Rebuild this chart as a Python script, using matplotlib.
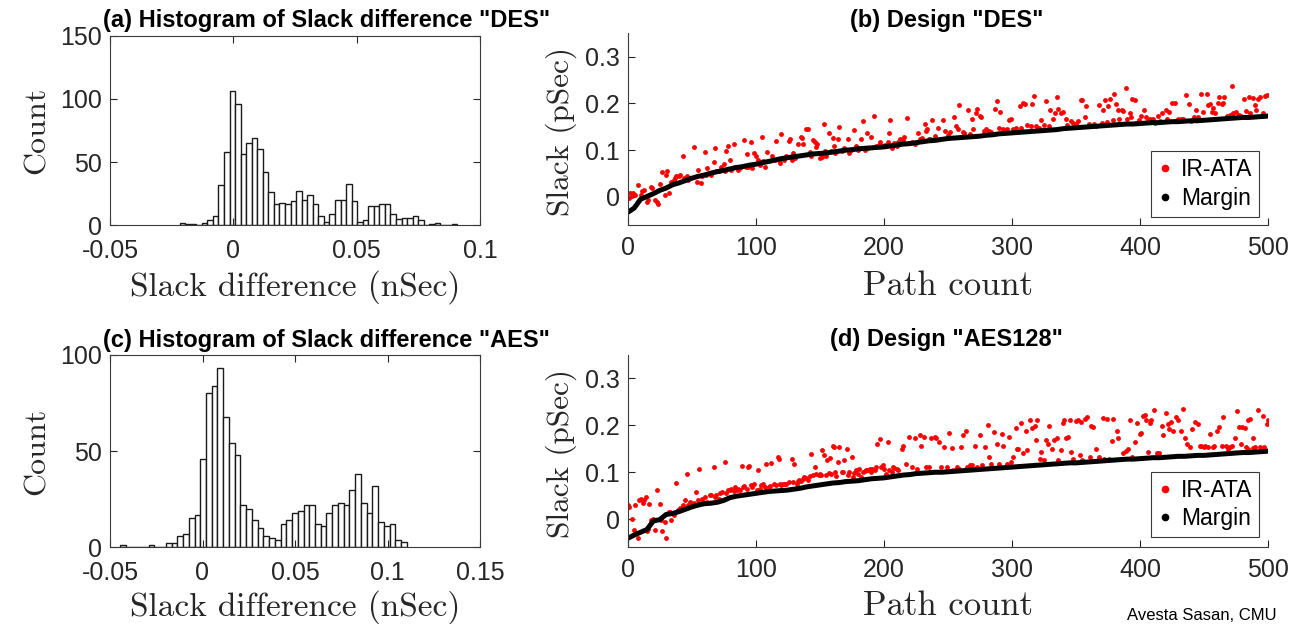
import numpy as np
import matplotlib.pyplot as plt
from matplotlib.lines import Line2D

plt.rcParams['font.family'] = ['Liberation Sans', 'DejaVu Sans']

# ---- histogram data (bin start, bin width, counts per bin) ----
des_bin_start = -0.0218
des_bin_width = 0.00225
des_counts = [2, 1, 1, 0, 2, 4, 7, 32, 58, 106,
              96, 56, 65, 69, 60, 42, 26, 17, 18, 17,
              19, 27, 20, 24, 17, 7, 3, 9, 20, 20,
              33, 19, 3, 4, 15, 15, 17, 17, 9, 5,
              6, 6, 7, 4, 0, 1, 2, 0, 0, 1]

aes_bin_start = -0.0446
aes_bin_width = 0.0031
aes_counts = [1, 0, 0, 0, 0, 1, 0, 0, 2, 2,
              6, 7, 15, 17, 46, 80, 84, 93, 68, 54,
              48, 22, 20, 14, 10, 6, 5, 4, 12, 14,
              18, 19, 22, 22, 12, 11, 18, 22, 23, 22,
              30, 38, 23, 18, 32, 13, 11, 12, 4, 3]

# ---- margin curves, one value every 5 paths (0..500) ----
margin_step = 5
des_margin = [-0.033, -0.024, -0.005, 0.001, 0.007, 0.014, 0.019, 0.026, 0.030, 0.035,
              0.040, 0.044, 0.047, 0.051, 0.054, 0.057, 0.060, 0.063, 0.065, 0.068,
              0.070, 0.073, 0.076, 0.079, 0.082, 0.084, 0.086, 0.088, 0.090, 0.092,
              0.093, 0.094, 0.096, 0.098, 0.100, 0.101, 0.103, 0.104, 0.105, 0.106,
              0.107, 0.109, 0.111, 0.113, 0.114, 0.116, 0.118, 0.120, 0.121, 0.123,
              0.125, 0.126, 0.127, 0.128, 0.129, 0.130, 0.132, 0.133, 0.135, 0.136,
              0.137, 0.138, 0.139, 0.140, 0.141, 0.142, 0.143, 0.144, 0.146, 0.147,
              0.148, 0.149, 0.150, 0.151, 0.152, 0.153, 0.154, 0.155, 0.156, 0.156,
              0.157, 0.158, 0.159, 0.159, 0.160, 0.161, 0.161, 0.162, 0.163, 0.163,
              0.164, 0.165, 0.166, 0.167, 0.168, 0.169, 0.170, 0.170, 0.171, 0.172,
              0.173]
aes_margin = [-0.041, -0.034, -0.028, -0.022, -0.004, -0.001, 0.010, 0.012, 0.016, 0.021,
              0.026, 0.030, 0.033, 0.034, 0.036, 0.040, 0.046, 0.049, 0.051, 0.053,
              0.055, 0.057, 0.059, 0.060, 0.061, 0.062, 0.064, 0.066, 0.069, 0.071,
              0.073, 0.075, 0.077, 0.078, 0.080, 0.081, 0.082, 0.084, 0.086, 0.087,
              0.088, 0.090, 0.092, 0.094, 0.095, 0.097, 0.098, 0.099, 0.100, 0.100,
              0.101, 0.102, 0.103, 0.104, 0.105, 0.106, 0.107, 0.108, 0.109, 0.110,
              0.111, 0.112, 0.113, 0.114, 0.115, 0.116, 0.117, 0.118, 0.119, 0.120,
              0.120, 0.121, 0.122, 0.123, 0.124, 0.125, 0.126, 0.127, 0.128, 0.128,
              0.129, 0.130, 0.131, 0.131, 0.132, 0.133, 0.134, 0.134, 0.135, 0.136,
              0.136, 0.137, 0.138, 0.139, 0.140, 0.141, 0.142, 0.142, 0.143, 0.144,
              0.145]

# ---- IR-ATA slack, (path, slack) ----
des_ir = [
    (1, -0.003), (2, 0.008), (3, 0.001), (4, 0.009), (6, 0.004), (8, 0.025), (10, 0.004), (11, 0.012), (13, 0.014), (15, -0.010),
    (16, -0.006), (18, 0.022), (19, 0.019), (21, -0.006), (23, -0.010), (24, -0.015), (25, 0.028), (27, 0.053), (29, 0.004), (30, 0.047),
    (31, 0.055), (32, 0.008), (34, 0.031), (36, 0.037), (37, 0.040), (38, 0.044), (40, 0.044), (41, 0.047), (43, 0.088), (44, 0.040),
    (46, 0.044), (47, 0.037), (49, 0.040), (52, 0.107), (54, 0.033), (55, 0.057), (57, 0.030), (58, 0.044), (60, 0.097), (61, 0.047),
    (62, 0.062), (64, 0.051), (65, 0.047), (67, 0.075), (68, 0.104), (69, 0.055), (71, 0.055), (73, 0.065), (75, 0.071), (76, 0.055),
    (77, 0.098), (78, 0.110), (80, 0.078), (81, 0.058), (83, 0.114), (84, 0.065), (86, 0.058), (88, 0.062), (91, 0.122), (92, 0.065),
    (93, 0.091), (94, 0.064), (96, 0.117), (97, 0.062), (99, 0.094), (100, 0.087), (102, 0.080), (103, 0.069), (105, 0.129), (106, 0.076),
    (107, 0.065), (109, 0.096), (110, 0.076), (113, 0.087), (115, 0.080), (116, 0.119), (118, 0.080), (119, 0.073), (120, 0.134), (122, 0.080),
    (124, 0.087), (126, 0.119), (127, 0.123), (128, 0.080), (129, 0.094), (131, 0.083), (133, 0.114), (135, 0.129), (136, 0.127), (137, 0.114),
    (139, 0.145), (141, 0.146), (142, 0.096), (143, 0.087), (145, 0.121), (146, 0.117), (147, 0.107), (148, 0.114), (150, 0.083), (152, 0.086),
    (153, 0.157), (154, 0.098), (155, 0.087), (157, 0.137), (159, 0.098), (160, 0.127), (161, 0.109), (162, 0.094), (164, 0.124), (165, 0.150),
    (167, 0.098), (169, 0.105), (172, 0.123), (173, 0.094), (174, 0.101), (177, 0.143), (178, 0.110), (180, 0.101), (182, 0.123), (184, 0.163),
    (185, 0.101), (187, 0.137), (188, 0.105), (190, 0.128), (192, 0.173), (194, 0.110), (196, 0.112), (197, 0.117), (199, 0.109), (201, 0.112),
    (203, 0.117), (204, 0.137), (205, 0.165), (206, 0.105), (208, 0.116), (210, 0.109), (211, 0.117), (213, 0.123), (215, 0.121), (216, 0.129),
    (218, 0.168), (220, 0.116), (222, 0.117), (224, 0.114), (227, 0.136), (228, 0.123), (230, 0.126), (232, 0.155), (233, 0.141), (234, 0.146),
    (235, 0.124), (236, 0.123), (238, 0.164), (240, 0.130), (242, 0.147),
    (246, 0.164), (248, 0.141), (250, 0.132), (252, 0.139), (255, 0.171), (256, 0.152), (258, 0.145), (259, 0.196), (262, 0.139), (263, 0.136),
    (266, 0.186), (267, 0.134), (269, 0.166), (270, 0.145), (272, 0.180), (273, 0.189), (275, 0.173), (276, 0.172), (278, 0.141), (280, 0.146),
    (282, 0.141), (284, 0.139), (287, 0.189), (288, 0.205), (290, 0.148), (291, 0.181), (293, 0.145), (296, 0.146), (298, 0.164), (299, 0.167),
    (301, 0.146), (303, 0.148), (306, 0.194), (307, 0.148), (309, 0.201), (310, 0.198), (312, 0.153), (315, 0.152), (316, 0.198), (317, 0.216),
    (319, 0.152), (321, 0.148), (323, 0.164), (325, 0.153), (327, 0.205), (329, 0.152), (330, 0.187), (332, 0.167), (334, 0.179), (335, 0.214),
    (336, 0.189), (338, 0.180), (340, 0.181), (342, 0.167), (343, 0.153), (346, 0.162), (348, 0.159), (350, 0.155), (352, 0.162), (354, 0.207),
    (355, 0.207), (357, 0.170), (358, 0.194), (360, 0.155), (361, 0.152), (364, 0.157), (366, 0.152), (368, 0.196), (370, 0.159), (371, 0.186),
    (373, 0.207), (374, 0.160), (375, 0.194), (377, 0.209), (379, 0.164), (380, 0.221), (381, 0.198), (383, 0.187), (384, 0.166), (386, 0.186),
    (387, 0.184), (389, 0.234), (390, 0.166), (392, 0.180), (393, 0.172), (394, 0.210), (396, 0.207), (397, 0.159), (399, 0.164), (401, 0.173),
    (403, 0.186), (405, 0.170), (406, 0.162), (408, 0.166), (410, 0.166), (412, 0.159), (414, 0.174), (416, 0.162), (417, 0.180), (420, 0.187),
    (421, 0.166), (423, 0.181), (425, 0.201), (427, 0.200), (428, 0.162), (430, 0.167), (432, 0.167), (434, 0.166), (436, 0.217), (438, 0.198),
    (440, 0.162), (442, 0.170), (444, 0.186), (445, 0.170), (448, 0.221), (449, 0.181), (452, 0.221), (453, 0.196), (455, 0.198), (456, 0.181),
    (457, 0.191), (459, 0.179), (461, 0.201), (462, 0.214), (464, 0.198), (465, 0.201), (466, 0.214), (468, 0.173), (470, 0.176), (472, 0.238),
    (473, 0.180), (475, 0.181), (477, 0.176), (479, 0.173), (481, 0.210), (483, 0.184), (485, 0.214), (486, 0.179), (488, 0.212), (490, 0.196),
    (491, 0.187), (492, 0.210), (494, 0.214), (496, 0.180), (498, 0.216), (499, 0.219),
]

aes_ir = [
    (0, 0.030), (1, 0.026), (3, 0.001), (5, -0.023), (6, 0.030), (8, -0.041), (9, 0.040), (10, 0.044), (12, 0.035), (13, 0.040),
    (14, 0.048), (15, -0.026), (16, -0.020), (17, 0.033), (18, -0.002), (20, 0.001), (21, -0.023), (23, 0.062), (25, 0.033), (26, -0.002),
    (27, -0.026), (29, -0.006), (30, -0.040), (32, 0.016), (33, 0.016), (34, -0.002), (36, 0.009), (38, 0.078), (39, 0.019), (41, 0.023),
    (43, 0.030), (45, 0.040), (46, 0.096), (47, 0.030), (49, 0.037), (51, 0.033), (52, 0.035), (53, 0.058), (55, 0.040), (56, 0.106),
    (58, 0.044), (59, 0.037), (60, 0.048), (62, 0.037), (64, 0.051), (65, 0.051), (67, 0.111), (68, 0.048), (69, 0.051), (71, 0.044),
    (72, 0.055), (74, 0.058), (76, 0.122), (77, 0.055), (78, 0.062), (80, 0.062), (81, 0.065), (83, 0.060), (84, 0.069), (85, 0.062),
    (86, 0.065), (88, 0.063), (89, 0.113), (90, 0.069), (91, 0.071), (93, 0.065), (94, 0.111), (95, 0.113), (96, 0.072), (97, 0.069),
    (99, 0.074), (101, 0.062), (102, 0.104), (103, 0.065), (104, 0.072), (106, 0.076), (107, 0.069), (108, 0.118), (110, 0.069), (111, 0.071),
    (112, 0.120), (114, 0.076), (116, 0.072), (117, 0.133), (118, 0.129), (119, 0.076), (120, 0.072), (121, 0.076), (123, 0.076), (124, 0.074),
    (126, 0.079), (128, 0.129), (129, 0.079), (130, 0.117), (132, 0.076), (133, 0.082), (134, 0.083), (135, 0.082), (137, 0.085), (138, 0.090),
    (139, 0.087), (141, 0.083), (142, 0.091), (143, 0.138), (145, 0.094), (146, 0.111), (147, 0.097), (149, 0.094), (150, 0.097), (151, 0.094),
    (152, 0.147), (153, 0.136), (155, 0.094), (156, 0.126), (157, 0.099), (158, 0.130), (159, 0.097), (160, 0.157), (161, 0.154), (162, 0.101),
    (163, 0.091), (164, 0.122), (165, 0.154), (167, 0.101), (168, 0.101), (169, 0.127), (171, 0.150), (172, 0.094), (173, 0.101), (175, 0.133),
    (176, 0.090), (177, 0.099), (178, 0.104), (180, 0.097), (181, 0.108), (182, 0.090), (184, 0.101), (185, 0.103), (186, 0.104), (188, 0.104),
    (189, 0.106), (190, 0.101), (191, 0.108), (193, 0.104), (194, 0.111), (195, 0.161), (197, 0.170), (198, 0.111), (199, 0.115), (200, 0.106),
    (202, 0.097), (203, 0.165), (204, 0.104), (206, 0.101), (207, 0.111), (208, 0.109), (210, 0.108), (211, 0.104),
    (214, 0.150), (215, 0.157), (217, 0.118), (220, 0.175), (222, 0.111), (224, 0.172), (226, 0.108), (228, 0.179), (229, 0.157), (231, 0.175),
    (233, 0.111), (235, 0.111), (237, 0.172), (240, 0.175), (241, 0.172), (243, 0.165), (245, 0.111), (247, 0.154), (249, 0.111), (251, 0.184),
    (253, 0.152), (254, 0.104), (257, 0.111), (259, 0.108), (260, 0.154), (262, 0.179), (264, 0.189), (265, 0.111), (267, 0.115), (269, 0.115),
    (271, 0.155), (273, 0.111), (275, 0.179), (277, 0.115), (279, 0.154), (281, 0.200), (282, 0.133), (284, 0.118), (286, 0.186), (288, 0.161),
    (290, 0.118), (292, 0.182), (293, 0.155), (296, 0.117), (298, 0.175), (299, 0.122), (301, 0.133), (303, 0.195), (304, 0.150), (305, 0.150),
    (307, 0.204), (309, 0.140), (311, 0.189), (312, 0.147), (314, 0.211), (316, 0.195), (318, 0.198), (319, 0.168), (320, 0.211), (322, 0.129),
    (323, 0.143), (325, 0.127), (327, 0.168), (328, 0.161), (329, 0.198), (331, 0.150), (333, 0.168), (335, 0.172), (336, 0.126), (338, 0.147),
    (340, 0.204), (341, 0.211), (342, 0.172), (344, 0.175), (345, 0.211), (346, 0.143), (348, 0.129), (350, 0.209), (352, 0.211), (353, 0.136),
    (354, 0.207), (355, 0.126), (357, 0.214), (359, 0.218), (361, 0.133), (362, 0.198), (363, 0.196), (366, 0.150), (368, 0.133), (371, 0.216),
    (372, 0.129), (374, 0.214), (376, 0.129), (378, 0.167), (379, 0.214), (382, 0.189), (383, 0.172), (385, 0.129), (387, 0.140), (389, 0.145),
    (391, 0.150), (392, 0.211), (394, 0.133), (396, 0.165), (398, 0.205), (400, 0.182), (401, 0.184), (402, 0.221), (404, 0.223), (405, 0.211),
    (406, 0.143), (408, 0.204), (409, 0.211), (411, 0.232), (413, 0.140), (415, 0.140), (417, 0.198), (418, 0.179), (420, 0.226), (422, 0.202),
    (423, 0.193), (424, 0.207), (426, 0.188), (428, 0.218), (430, 0.211), (432, 0.189), (434, 0.235), (435, 0.172), (437, 0.161), (439, 0.154),
    (441, 0.193), (443, 0.207), (445, 0.202), (447, 0.157), (448, 0.155), (450, 0.154), (451, 0.157), (453, 0.154), (455, 0.182), (457, 0.154),
    (458, 0.157), (460, 0.189), (462, 0.196), (464, 0.157), (465, 0.218), (467, 0.155), (469, 0.150), (470, 0.154), (472, 0.157), (474, 0.172),
    (476, 0.230), (477, 0.196), (479, 0.161), (480, 0.196), (482, 0.195), (483, 0.154), (484, 0.211), (484, 0.150), (486, 0.214), (488, 0.172),
    (488, 0.152), (490, 0.154), (492, 0.232), (494, 0.154), (496, 0.221), (497, 0.154), (499, 0.202), (500, 0.211),
]

AX_COLOR = '#262626'
LABEL_FONT = 'cmr10'


def style_axes(ax, box):
    for name, sp in ax.spines.items():
        sp.set_color('#3a3a3a')
        sp.set_linewidth(0.8)
        if not box and name in ('top', 'right'):
            sp.set_visible(False)
    ax.tick_params(direction='in', length=5, width=0.8, colors=AX_COLOR,
                   labelsize=18, top=box, right=box)


def hist_panel(ax, start, width, counts, xticks, xlabels, yticks, xlabel_y):
    edges = start + width * np.arange(len(counts))
    ax.bar(edges, counts, width=width, align='edge', color='white',
           edgecolor='#1a1a1a', linewidth=1.0)
    style_axes(ax, True)
    ax.set_xlim(xticks[0], xticks[-1])
    ax.set_ylim(yticks[0], yticks[-1])
    ax.set_xticks(xticks, xlabels)
    ax.set_yticks(yticks, [str(t) for t in yticks])
    ax.tick_params(axis='x', pad=10)
    ax.tick_params(axis='y', pad=5.5)
    ax.set_xlabel('Slack difference (nSec)', fontfamily=LABEL_FONT, fontsize=24, color=AX_COLOR)
    ax.set_ylabel('Count', fontfamily=LABEL_FONT, fontsize=23, color=AX_COLOR)
    ax.xaxis.set_label_coords(0.5, xlabel_y)
    ax.yaxis.set_label_coords(-0.159, 0.5)


def scatter_panel(ax, ir, margin, legend_y, xlabel_y):
    px, py = zip(*ir)
    mx = margin_step * np.arange(len(margin))
    ax.plot(px, py, 'o', color='red', ms=3.5, mec='none')
    ax.plot(mx, margin, '-', color='black', lw=3.6, solid_capstyle='round')
    style_axes(ax, False)
    ax.set_xlim(0, 500)
    ax.set_ylim(-0.06, 0.35)
    ax.set_xticks([0, 100, 200, 300, 400, 500], ['0', '100', '200', '300', '400', '500'])
    ax.set_yticks([0, 0.1, 0.2, 0.3], ['0', '0.1', '0.2', '0.3'])
    ax.tick_params(axis='x', pad=8)
    ax.tick_params(axis='y', pad=5.5)
    ax.set_xlabel('Path count', fontfamily=LABEL_FONT, fontsize=25, color=AX_COLOR)
    ax.set_ylabel('Slack (pSec)', fontfamily=LABEL_FONT, fontsize=22.5, color=AX_COLOR)
    ax.xaxis.set_label_coords(0.5, xlabel_y)
    ax.yaxis.set_label_coords(-0.079, 0.488)
    handles = [Line2D([], [], ls='', marker='.', color='red', ms=9),
               Line2D([], [], ls='', marker='.', color='black', ms=9)]
    leg = ax.legend(handles, ['IR-ATA', 'Margin'], loc='lower right',
                    bbox_to_anchor=(0.986, legend_y), borderaxespad=0,
                    fontsize=16.5, fancybox=False, framealpha=1,
                    handlelength=0.6, handletextpad=0.4, borderpad=0.3,
                    labelspacing=0.25)
    leg.get_frame().set_edgecolor('#3a3a3a')
    leg.get_frame().set_linewidth(0.8)


W, H = 1304, 624
fig = plt.figure(figsize=(W / 100, H / 100), dpi=100)


def px_axes(x0, y0, x1, y1):
    return fig.add_axes([x0 / W, 1 - y1 / H, (x1 - x0) / W, (y1 - y0) / H])


ax_a = px_axes(110, 35.6, 480, 225.3)
ax_b = px_axes(627.7, 33.3, 1268, 225)
ax_c = px_axes(110, 355, 480, 547.3)
ax_d = px_axes(627.7, 355, 1268, 547.3)

hist_panel(ax_a, des_bin_start, des_bin_width, des_counts,
           [-0.05, 0, 0.05, 0.1], ['-0.05', '0', '0.05', '0.1'], [0, 50, 100, 150], -0.235)
hist_panel(ax_c, aes_bin_start, aes_bin_width, aes_counts,
           [-0.05, 0, 0.05, 0.1, 0.15], ['-0.05', '0', '0.05', '0.1', '0.15'], [0, 50, 100], -0.222)
scatter_panel(ax_b, des_ir, des_margin, 0.042, -0.235)
scatter_panel(ax_d, aes_ir, aes_margin, 0.052, -0.222)

title_kw = dict(fontsize=17, fontweight='bold', ha='center', va='baseline', color='black')
fig.text(326.5 / W, 1 - 26.7 / H, '(a) Histogram of Slack difference "DES"', **title_kw)
fig.text(947 / W, 1 - 26.7 / H, '(b) Design "DES"', **title_kw)
fig.text(326.5 / W, 1 - 346.7 / H, '(c) Histogram of Slack difference "AES"', **title_kw)
fig.text(946 / W, 1 - 346 / H, '(d) Design "AES128"', **title_kw)

fig.text(1127 / W, 1 / H, 'Avesta Sasan, CMU', fontsize=12, ha='left', va='bottom')

fig.savefig('out.png', dpi=100)
